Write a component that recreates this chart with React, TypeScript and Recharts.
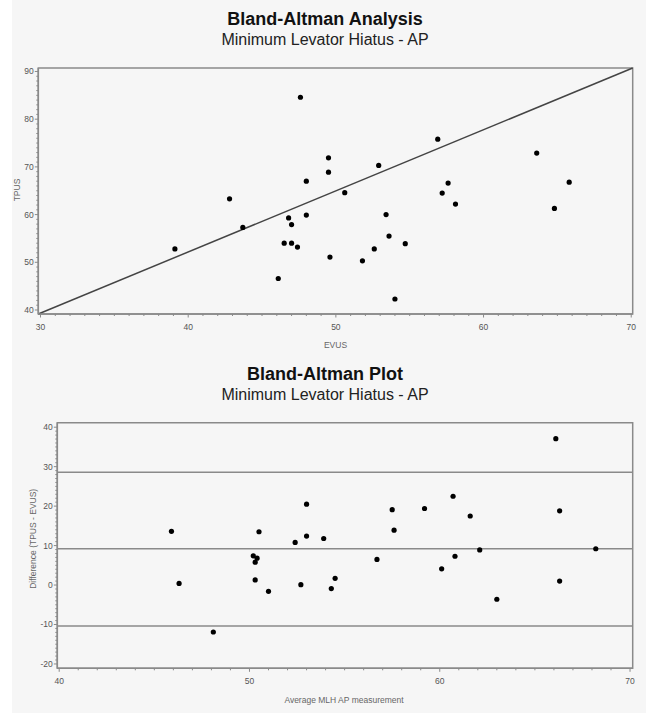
import React from 'react';
import { ScatterChart, Scatter, XAxis, YAxis, ReferenceLine, ReferenceArea } from 'recharts';

// Top chart: EVUS vs TPUS
const evus = [39.1, 42.8, 43.7, 47.6, 49.5, 49.5, 48.0, 48.0, 46.8, 47.0, 46.5, 47.0, 47.4, 46.1, 49.6, 56.9, 52.9, 50.6, 57.6, 57.2, 58.1, 53.4, 53.6, 54.7, 52.6, 51.8, 54.0, 63.6, 64.8, 65.8];
const tpus = [52.8, 63.3, 57.3, 84.6, 71.9, 68.9, 67.0, 59.9, 59.3, 57.9, 54.0, 54.0, 53.2, 46.6, 51.1, 75.8, 70.3, 64.6, 66.6, 64.5, 62.2, 60.0, 55.5, 53.9, 52.8, 50.3, 42.3, 72.9, 61.3, 66.8];
const topXDomain = [29.85, 70.1];
const topYDomain = [39.16, 90.73];
const topXTicks = Array.from({ length: 41 }, (_, i) => 30 + i);
const topYTicks = Array.from({ length: 51 }, (_, i) => 40 + i);
const diagStart = { x: 29.85, y: 39.16 };
const diagEnd = { x: 70.1, y: 90.73 };

// Bottom chart: average vs difference
const avgMLH = [45.9, 46.3, 48.1, 50.2, 50.3, 50.4, 50.5, 50.3, 51.0, 52.4, 53.0, 53.0, 52.7, 53.9, 54.3, 54.5, 56.7, 57.5, 57.6, 59.2, 60.7, 60.1, 60.8, 61.6, 62.1, 63.0, 66.1, 66.3, 66.3, 68.2];
const diffMLH = [13.6, 0.4, -11.9, 7.4, 5.8, 6.8, 13.5, 1.3, -1.6, 10.8, 20.5, 12.4, 0.1, 11.8, -0.9, 1.7, 6.5, 19.1, 13.9, 19.4, 22.5, 4.1, 7.3, 17.5, 8.9, -3.6, 37.1, 18.8, 1.0, 9.2];
const limitLines = [28.6, 9.2, -10.4];
const botXDomain = [39.9, 70.14];
const botYDomain = [-21.1, 41.14];
const botXTicks = Array.from({ length: 31 }, (_, i) => 40 + i);
const botYTicks = Array.from({ length: 61 }, (_, i) => -20 + i);

const FONT = '"Liberation Sans", Arial, Helvetica, sans-serif';
const AXIS = '#8a8a8a';
const BG = '#f6f6f6';

const isMajor = (v: number) => Math.abs(Math.round(v)) % 10 === 0;

const XTick = (props: any) => {
  const { x, y, payload } = props;
  const v = payload.value;
  const major = isMajor(v);
  return (
    <g>
      <line x1={x} x2={x} y1={y} y2={y + (major ? 3.5 : 2)} stroke={AXIS} strokeWidth={1} />
      {major && (
        <text x={x} y={y + 15.5} textAnchor="middle" fontSize={8.5} fill="#555" fontFamily={FONT}>
          {v}
        </text>
      )}
    </g>
  );
};

const YTick = (props: any) => {
  const { x, y, payload } = props;
  const v = payload.value;
  const major = isMajor(v);
  return (
    <g>
      <line x1={x} x2={x - (major ? 3.5 : 2)} y1={y} y2={y} stroke={AXIS} strokeWidth={1} />
      {major && (
        <text x={x - 4.5} y={y + 3} textAnchor="end" fontSize={8.5} fill="#555" fontFamily={FONT}>
          {v}
        </text>
      )}
    </g>
  );
};

const Dot = (p: any) => <circle cx={p.cx} cy={p.cy} r={2.6} fill="#000" />;

const topData = evus.map((x, i) => ({ x, y: tpus[i] }));
const botData = avgMLH.map((x, i) => ({ x, y: diffMLH[i] }));

const axisCommon = {
  type: 'number' as const,
  tickSize: 0,
  tickMargin: 0,
  tickLine: false,
  interval: 0 as const,
  allowDataOverflow: true,
  axisLine: { stroke: AXIS, strokeWidth: 1.5 },
};

export default function App() {
  return (
    <div style={{ position: 'absolute', left: 0, top: 0, width: 646, height: 713, background: '#fff', overflow: 'hidden' }}>
      <div style={{ position: 'absolute', left: 12, top: 0, width: 634, height: 713, background: BG }} />
      <div style={{ position: 'absolute', left: 0, top: 0 }}>
        <ScatterChart width={646} height={355} margin={{ top: 68, right: 13.3, bottom: 11, left: 8.3 }}>
          <XAxis {...axisCommon} dataKey="x" domain={topXDomain} ticks={topXTicks} tick={<XTick />} height={30} />
          <YAxis {...axisCommon} dataKey="y" domain={topYDomain} ticks={topYTicks} tick={<YTick />} width={30} />
          <ReferenceArea x1={topXDomain[0]} x2={topXDomain[1]} y1={topYDomain[0]} y2={topYDomain[1]} fill="none" stroke={AXIS} strokeWidth={1.5} fillOpacity={0} />
          <ReferenceLine segment={[diagStart, diagEnd]} stroke="#444" strokeWidth={1.5} />
          <Scatter data={topData} shape={<Dot />} isAnimationActive={false} />
        </ScatterChart>
      </div>
      <div style={{ position: 'absolute', left: 0, top: 355 }}>
        <ScatterChart width={646} height={358} margin={{ top: 67.7, right: 13.3, bottom: 14.7, left: 27.3 }}>
          <XAxis {...axisCommon} dataKey="x" domain={botXDomain} ticks={botXTicks} tick={<XTick />} height={30} />
          <YAxis {...axisCommon} dataKey="y" domain={botYDomain} ticks={botYTicks} tick={<YTick />} width={30} />
          <ReferenceArea x1={botXDomain[0]} x2={botXDomain[1]} y1={botYDomain[0]} y2={botYDomain[1]} fill="none" stroke={AXIS} strokeWidth={1.5} fillOpacity={0} />
          {limitLines.map((v) => (
            <ReferenceLine key={v} y={v} stroke={AXIS} strokeWidth={1.5} />
          ))}
          <Scatter data={botData} shape={<Dot />} isAnimationActive={false} />
        </ScatterChart>
      </div>
      <svg width={646} height={713} style={{ position: 'absolute', left: 0, top: 0, pointerEvents: 'none' }} fontFamily={FONT}>
        <text x={325} y={25} textAnchor="middle" fontSize={18} fontWeight="bold" fill="#111">Bland-Altman Analysis</text>
        <text x={325} y={45} textAnchor="middle" fontSize={16} fill="#222">Minimum Levator Hiatus - AP</text>
        <text x={335.5} y={348} textAnchor="middle" fontSize={8.5} fill="#666">EVUS</text>
        <text x={19.7} y={190} textAnchor="middle" fontSize={8.5} fill="#666" transform="rotate(-90 19.7 190)">TPUS</text>
        <text x={325} y={380} textAnchor="middle" fontSize={18} fontWeight="bold" fill="#111">Bland-Altman Plot</text>
        <text x={325} y={400} textAnchor="middle" fontSize={16} fill="#222">Minimum Levator Hiatus - AP</text>
        <text x={344} y={703} textAnchor="middle" fontSize={8.5} fill="#666">Average MLH AP measurement</text>
        <text x={35.7} y={538.8} textAnchor="middle" fontSize={8.5} fill="#666" transform="rotate(-90 35.7 538.8)">Difference (TPUS - EVUS)</text>
      </svg>
    </div>
  );
}
